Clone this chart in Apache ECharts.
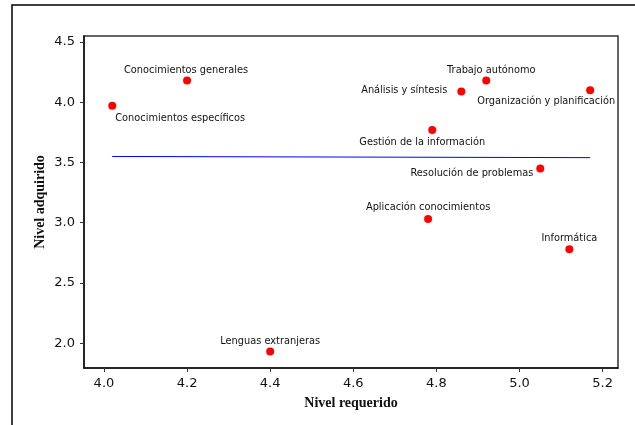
<!DOCTYPE html>
<html>
<head>
<meta charset="utf-8">
<script src="https://cdn.jsdelivr.net/npm/echarts@6/dist/echarts.min.js"></script>
<style>
  html, body { margin: 0; padding: 0; background: #fff; }
  #chart { width: 635px; height: 425px; }
</style>
</head>
<body>
<div id="chart"></div>
<script>
// Competencias: nivel requerido (x) frente a nivel adquirido (y)
const competencias = [
  'Conocimientos específicos',
  'Conocimientos generales',
  'Trabajo autónomo',
  'Análisis y síntesis',
  'Organización y planificación',
  'Gestión de la información',
  'Resolución de problemas',
  'Aplicación conocimientos',
  'Informática',
  'Lenguas extranjeras'
];
const nivelRequerido = [4.02, 4.20, 4.92, 4.86, 5.17, 4.79, 5.05, 4.78, 5.12, 4.40];
const nivelAdquirido = [3.97, 4.18, 4.18, 4.09, 4.10, 3.77, 3.45, 3.03, 2.78, 1.93];

// Recta de ajuste (extremos)
const ajusteX = [4.02, 5.17];
const ajusteY = [3.55, 3.54];

// Marcas de los ejes
const ticksX = [4.0, 4.2, 4.4, 4.6, 4.8, 5.0, 5.2];
const ticksY = [2.0, 2.5, 3.0, 3.5, 4.0, 4.5];

// Colocación de cada etiqueta respecto al centro de su punto
const colocacion = {
  'Conocimientos específicos':   { align: 'left',   dx: 3,   dy: 13 },
  'Conocimientos generales':     { align: 'center', dx: -1,  dy: -10 },
  'Trabajo autónomo':            { align: 'center', dx: 5,   dy: -10 },
  'Análisis y síntesis':         { align: 'right',  dx: -14, dy: -1 },
  'Organización y planificación':{ align: 'right',  dx: 25,  dy: 11 },
  'Gestión de la información':   { align: 'center', dx: -10, dy: 12 },
  'Resolución de problemas':     { align: 'right',  dx: -7,  dy: 5 },
  'Aplicación conocimientos':    { align: 'center', dx: 0,   dy: -12 },
  'Informática':                 { align: 'center', dx: 0,   dy: -11 },
  'Lenguas extranjeras':         { align: 'center', dx: 0,   dy: -10 }
};

const TAM_PUNTO = 8;
const MITAD = TAM_PUNTO / 2;

const puntos = competencias.map((nombre, i) => {
  const c = colocacion[nombre];
  return {
    name: nombre,
    value: [nivelRequerido[i], nivelAdquirido[i]],
    label: {
      show: true,
      position: [MITAD + c.dx, MITAD + c.dy],
      align: c.align,
      verticalAlign: 'middle'
    }
  };
});

const ajuste = ajusteX.map((x, i) => [x, ajusteY[i]]);

const chart = echarts.init(document.getElementById('chart'), null, { renderer: 'canvas' });

const tickLabelStyle = {
  fontFamily: 'DejaVu Sans',
  fontSize: 13,
  color: '#111'
};

const axisNameStyle = {
  fontFamily: 'Liberation Serif',
  fontWeight: 'bold',
  fontSize: 14,
  color: '#111'
};

chart.setOption({
  animation: false,
  backgroundColor: '#fff',
  graphic: [{
    type: 'polyline',
    shape: { points: [[12, 425], [12, 5], [635, 5]] },
    style: { stroke: '#000', lineWidth: 1.5, fill: null },
    silent: true
  }],
  grid: {
    left: 84, top: 36, right: 17, bottom: 57,
    show: true,
    borderColor: '#333',
    borderWidth: 1.5,
    backgroundColor: 'transparent'
  },
  xAxis: {
    type: 'value',
    min: 3.952,
    max: 5.237,
    name: 'Nivel requerido',
    nameLocation: 'middle',
    nameGap: 28,
    nameMoveOverlap: false,
    nameTextStyle: axisNameStyle,
    splitLine: { show: false },
    axisLine: { show: true, onZero: false, lineStyle: { color: '#111', width: 1.5 } },
    axisTick: { show: true, length: 4, customValues: ticksX, lineStyle: { color: '#333' } },
    axisLabel: {
      ...tickLabelStyle,
      margin: 9,
      customValues: ticksX,
      formatter: v => v.toFixed(1)
    }
  },
  yAxis: {
    type: 'value',
    min: 1.794,
    max: 4.55,
    name: 'Nivel adquirido',
    nameLocation: 'middle',
    nameGap: 37,
    nameMoveOverlap: false,
    nameTextStyle: axisNameStyle,
    splitLine: { show: false },
    axisLine: { show: true, onZero: false, lineStyle: { color: '#111', width: 1.5 } },
    axisTick: { show: true, length: 4, customValues: ticksY, lineStyle: { color: '#333' } },
    axisLabel: {
      ...tickLabelStyle,
      margin: 9,
      customValues: ticksY,
      formatter: v => v.toFixed(1)
    }
  },
  series: [
    {
      type: 'line',
      data: ajuste,
      showSymbol: false,
      symbol: 'none',
      lineStyle: { color: '#0000ff', width: 1 },
      silent: true,
      z: 1
    },
    {
      type: 'scatter',
      data: puntos,
      symbol: 'circle',
      symbolSize: TAM_PUNTO,
      itemStyle: { color: '#ff0000', opacity: 1 },
      label: {
        formatter: '{b}',
        fontFamily: 'DejaVu Sans',
        fontSize: 9.8,
        color: '#111'
      },
      labelLayout: { hideOverlap: false },
      z: 2
    }
  ]
});
</script>
</body>
</html>
